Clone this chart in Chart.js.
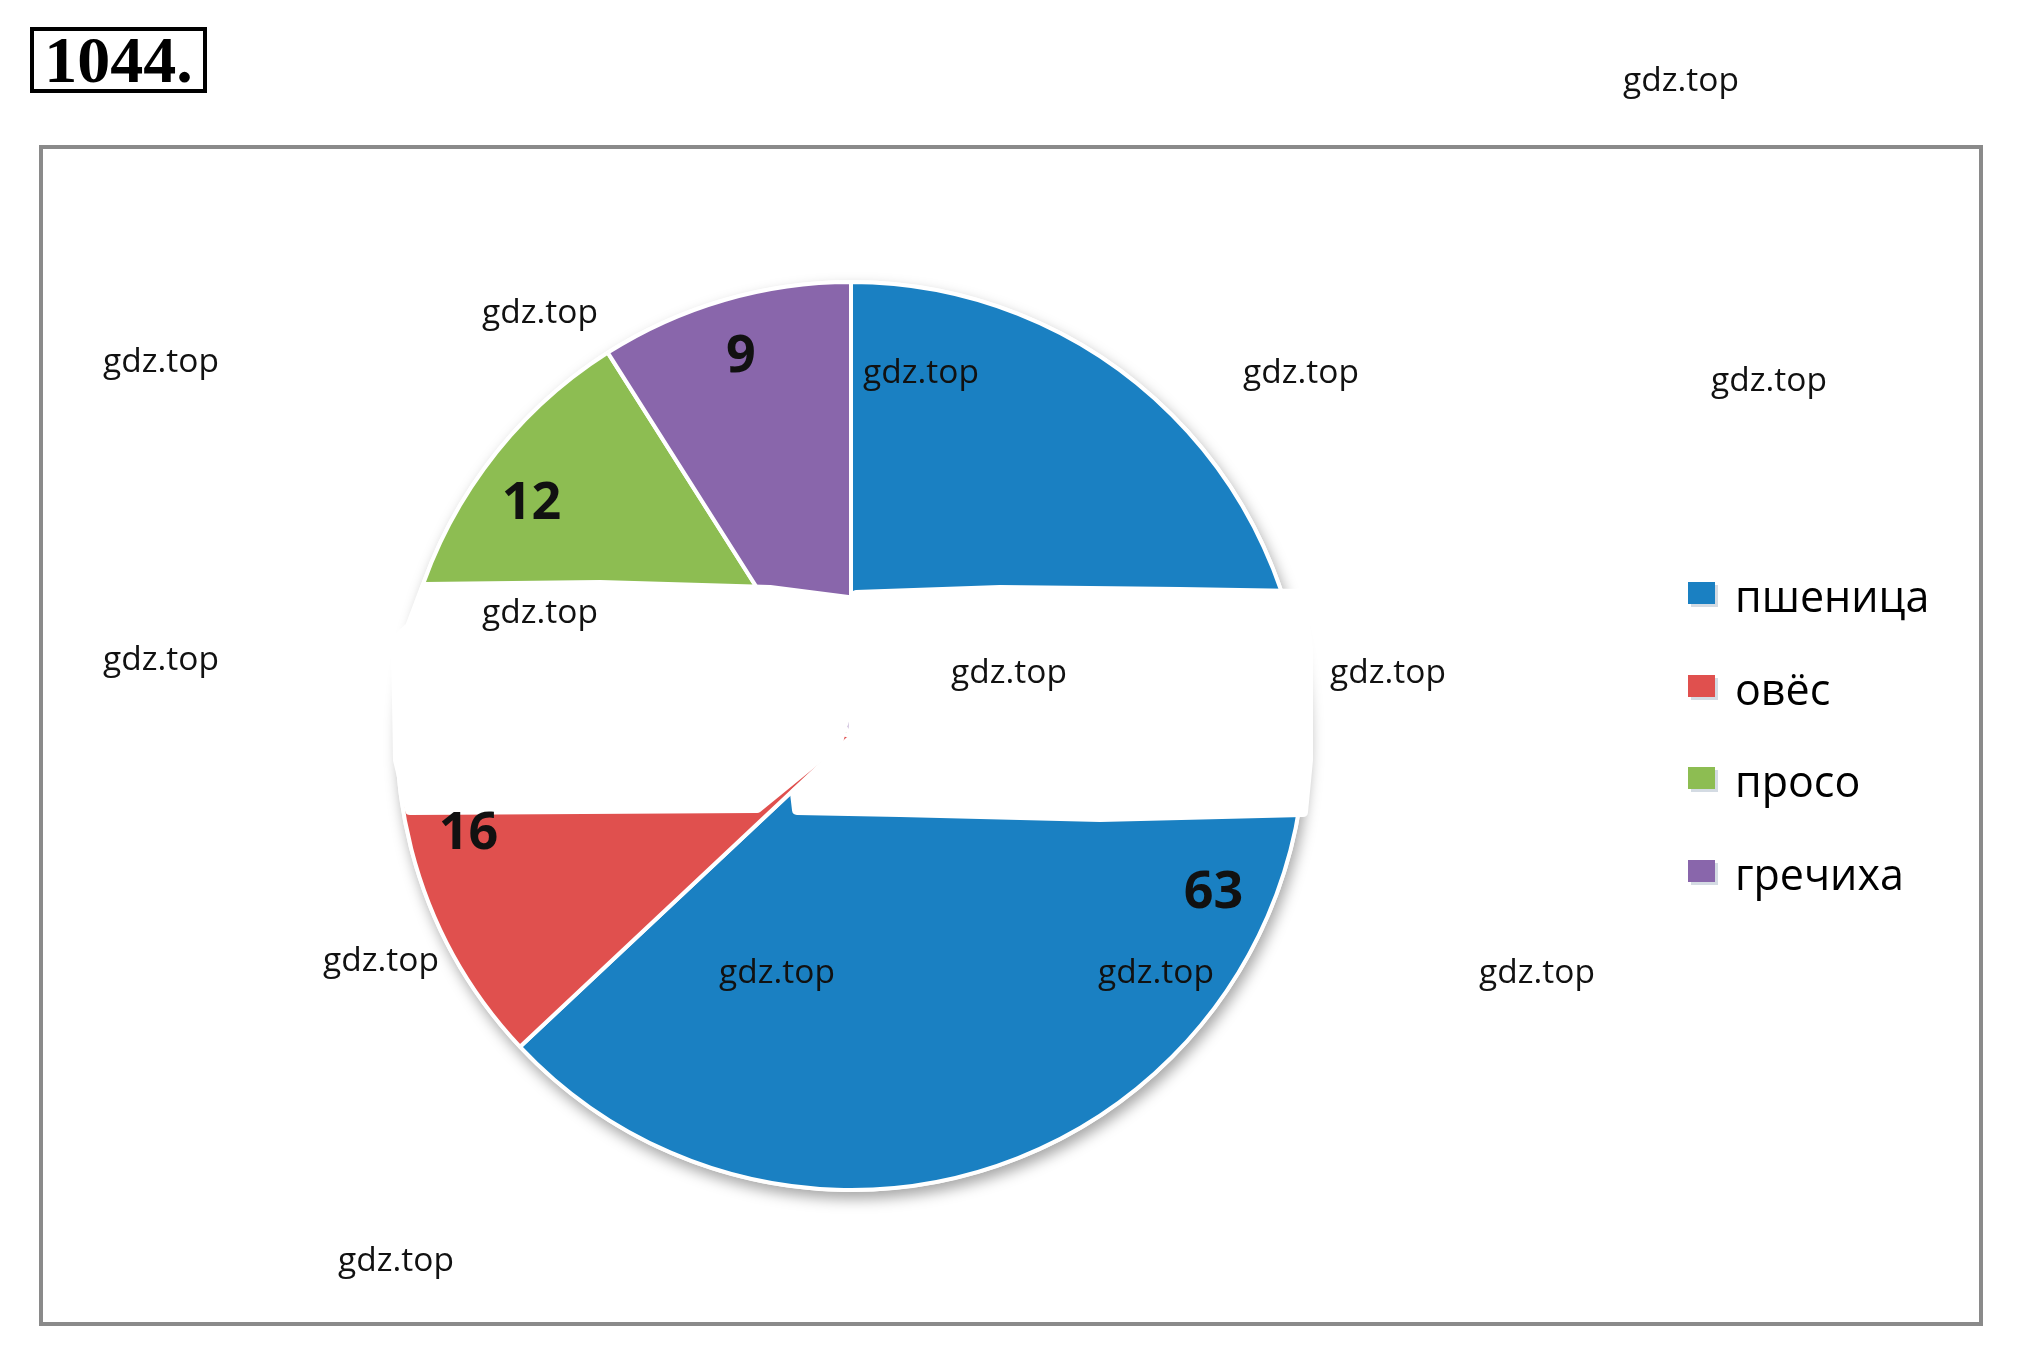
<!DOCTYPE html>
<html>
<head>
<meta charset="utf-8">
<script src="https://cdn.jsdelivr.net/npm/chart.js@4/dist/chart.umd.min.js"></script>
<style>
  html, body { margin: 0; padding: 0; background: #fff; }
  #page { position: relative; width: 2017px; height: 1346px; overflow: hidden; }
  #chart { position: absolute; left: 0; top: 0; }
  .num {
    position: absolute; left: 30px; top: 27px; width: 177px; height: 66px;
    box-sizing: border-box; border: 4px solid #000;
    font: bold 66px "Liberation Serif", serif; line-height: 58px; text-align: center;
  }
  .frame {
    position: absolute; left: 39px; top: 145px; width: 1944px; height: 1181px;
    box-sizing: border-box; border: 4px solid #8a8a8a;
  }
  .legend-row { position: absolute; left: 1688px; height: 43px; font: 43px "Open Sans", sans-serif; line-height: 43px; color: #000; }
  .legend-row .box { position: absolute; left: 0; top: 8px; width: 27px; height: 22px; box-shadow: 3px 3px 0 #d4dbe3; }
  .legend-row span { position: absolute; left: 47px; top: 0; white-space: nowrap; }
  .wm { position: absolute; font: 33.5px "Open Sans", sans-serif; color: #111; white-space: nowrap; transform: translate(-50%, -50%); }
</style>
</head>
<body>
<div id="page">
  <div class="num">1044.</div>
  <div class="frame"></div>
  <canvas id="chart" width="2017" height="1346"></canvas>
  <div id="legend"></div>
  <div id="marks"></div>
</div>
<script>
// ---------------- DATA ----------------
const crops = ["пшеница", "овёс", "просо", "гречиха"];
const shares = [63, 16, 12, 9];
const cropColors = ["#1a80c2", "#e0504e", "#8dbd52", "#8966ab"];

// watermark spots (page coords, centre of text)
const watermarkX = [1681, 161, 540, 921, 1301, 1769, 540, 161, 1009, 1388, 381, 777, 1156, 1537, 396];
const watermarkY = [78, 359, 310, 370, 370, 378, 610, 657, 670, 670, 958, 970, 970, 970, 1258];

// ---------------- PLUGINS ----------------
// soft shadow under the whole disc
const discShadow = {
    id: "discShadow",
    beforeDatasetsDraw(chart) {
        const arc = chart.getDatasetMeta(0).data[0];
        const ctx = chart.ctx;
        ctx.save();
        ctx.shadowColor = "rgba(0,0,0,0.35)";
        ctx.shadowBlur = 14;
        ctx.shadowOffsetX = 3;
        ctx.shadowOffsetY = 7;
        ctx.fillStyle = "#fff";
        ctx.beginPath();
        ctx.arc(arc.x, arc.y, arc.outerRadius + 2, 0, Math.PI * 2);
        ctx.fill();
        ctx.restore();
    }
};

// white erased bands across the middle + value labels
const overlay = {
    id: "overlay",
    afterDatasetsDraw(chart) {
        const meta = chart.getDatasetMeta(0);
        const cx = meta.data[0].x, cy = meta.data[0].y;
        const ctx = chart.ctx;

        const bands = [
            [[-426,-149],[-251,-151],[-81,-146],[-3,-136],[-1,-36],[-13,6],[-94,72],[-441,74],[-453,24],[-455,-96],[-441,-109]],
            [[5,-141],[149,-146],[329,-144],[449,-142],[457,-86],[457,24],[452,76],[249,81],[49,76],[-54,74],[-56,57],[2,6]]
        ];
        ctx.save();
        ctx.fillStyle = "#fff";
        ctx.lineJoin = "round";
        ctx.strokeStyle = "#fff";
        ctx.lineWidth = 10;
        bands.forEach(pts => {
            ctx.beginPath();
            pts.forEach((p, i) => i ? ctx.lineTo(cx + p[0], cy + p[1]) : ctx.moveTo(cx + p[0], cy + p[1]));
            ctx.closePath();
            ctx.fill();
            ctx.stroke();
        });
        ctx.restore();

        // numbers inside slices
        ctx.save();
        ctx.font = "bold 52px 'Open Sans', sans-serif";
        ctx.fillStyle = "#111";
        ctx.textAlign = "center";
        ctx.textBaseline = "middle";
        meta.data.forEach((arc, i) => {
            const mid = (arc.startAngle + arc.endAngle) / 2;
            const r = arc.outerRadius * 0.87;
            ctx.fillText(String(shares[i]), arc.x + Math.cos(mid) * r, arc.y + Math.sin(mid) * r);
        });
        ctx.restore();
    }
};

// ---------------- CHART ----------------
function initChart() {
    const ctx = document.getElementById("chart").getContext("2d");
    new Chart(ctx, {
        type: "pie",
        data: {
            labels: crops,
            datasets: [{
                data: shares,
                backgroundColor: cropColors,
                borderColor: "#fff",
                borderWidth: 4
            }]
        },
        options: {
            responsive: false,
            animation: false,
            events: [],
            layout: { padding: { left: 395, right: 710, top: 280, bottom: 154 } },
            plugins: {
                legend: { display: false },
                tooltip: { enabled: false }
            }
        },
        plugins: [discShadow, overlay]
    });
}

// ---------------- LEGEND ----------------
function buildLegend() {
    const holder = document.getElementById("legend");
    crops.forEach((name, i) => {
        const row = document.createElement("div");
        row.className = "legend-row";
        row.style.top = (574 + i * 92.5) + "px";
        row.innerHTML = '<div class="box" style="background:' + cropColors[i] + '"></div><span>' + name + '</span>';
        holder.appendChild(row);
    });
}

function buildWatermarks() {
    const holder = document.getElementById("marks");
    watermarkX.forEach((x, i) => {
        const d = document.createElement("div");
        d.className = "wm";
        d.style.left = x + "px";
        d.style.top = watermarkY[i] + "px";
        d.textContent = "gdz.top";
        holder.appendChild(d);
    });
}

initChart();
buildLegend();
buildWatermarks();
</script>
</body>
</html>
